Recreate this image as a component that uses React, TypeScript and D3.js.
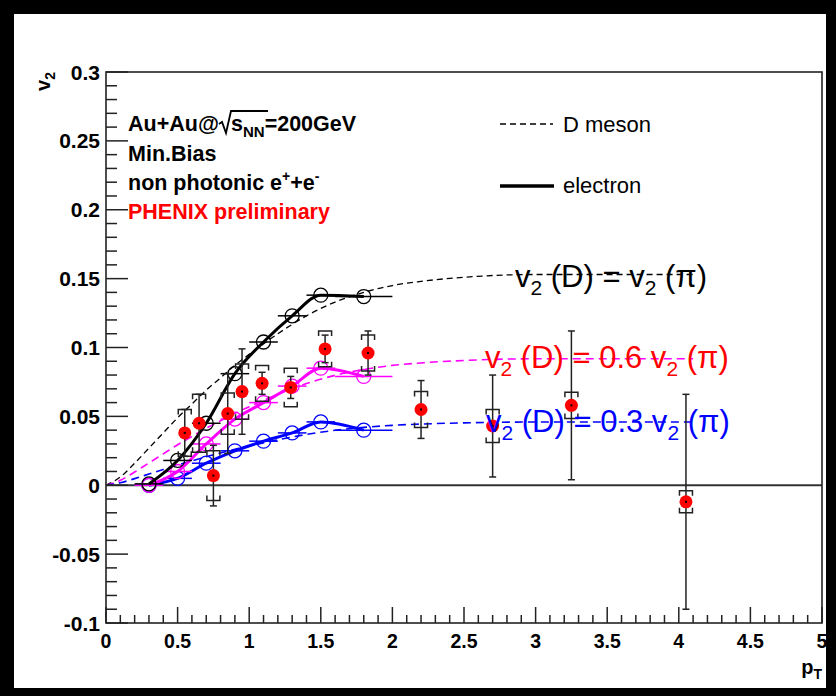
import React from "react";
import * as d3 from "d3";

// D-meson v2 assumption curves (dashed): v2(D) = v2(pi), 0.6 v2(pi), 0.3 v2(pi)
const dPt = [0, 0.1, 0.2, 0.3, 0.4, 0.5, 0.6, 0.7, 0.8, 0.9, 1.0, 1.2, 1.4, 1.6, 1.8, 2.0, 2.2, 2.5, 3.0, 3.5, 4.1];
const dV2Full = [0, 0.006, 0.016, 0.027, 0.038, 0.049, 0.059, 0.069, 0.078, 0.087, 0.095, 0.11, 0.123, 0.133, 0.14, 0.145, 0.148, 0.151, 0.153, 0.153, 0.153];
const dV2Sixty = [0, 0.0036, 0.0096, 0.0162, 0.0228, 0.0294, 0.0354, 0.0414, 0.0468, 0.0522, 0.057, 0.066, 0.0738, 0.0798, 0.084, 0.087, 0.0888, 0.0906, 0.0918, 0.0918, 0.0918];
const dV2Thirty = [0, 0.0018, 0.0048, 0.0081, 0.0114, 0.0147, 0.0177, 0.0207, 0.0234, 0.0261, 0.0285, 0.033, 0.0369, 0.0399, 0.042, 0.0435, 0.0444, 0.0453, 0.0459, 0.0459, 0.0459];

// Decay-electron v2 from each D assumption (solid lines, open circles)
const ePt = [0.3, 0.5, 0.7, 0.9, 1.1, 1.3, 1.5, 1.8];
const eHalfBin = [0.1, 0.1, 0.1, 0.1, 0.1, 0.1, 0.1, 0.2];
const eV2Full = [0.001, 0.018, 0.045, 0.081, 0.104, 0.123, 0.138, 0.137];
const eV2Sixty = [0.0, 0.01, 0.03, 0.048, 0.06, 0.072, 0.085, 0.079];
const eV2Thirty = [0.0, 0.005, 0.016, 0.025, 0.032, 0.038, 0.046, 0.04];

// Non-photonic electron v2 measurement
const dataPt = [0.55, 0.65, 0.75, 0.85, 0.95, 1.09, 1.29, 1.53, 1.83, 2.2, 2.7, 3.25, 4.05];
const dataV2 = [0.038, 0.045, 0.007, 0.052, 0.068, 0.074, 0.071, 0.099, 0.096, 0.055, 0.043, 0.058, -0.012];
const dataStat = [0.017, 0.021, 0.022, 0.029, 0.031, 0.008, 0.008, 0.01, 0.016, 0.021, 0.037, 0.054, 0.078];
const dataSys = [0.017, 0.021, 0.018, 0.015, 0.02, 0.013, 0.014, 0.013, 0.013, 0.013, 0.012, 0.0095, 0.008];

const xTickValues = [0, 0.5, 1, 1.5, 2, 2.5, 3, 3.5, 4, 4.5, 5];
const xTickLabels = ["0", "0.5", "1", "1.5", "2", "2.5", "3", "3.5", "4", "4.5", "5"];
const yTickValues = [-0.1, -0.05, 0, 0.05, 0.1, 0.15, 0.2, 0.25, 0.3];
const yTickLabels = ["-0.1", "-0.05", "0", "0.05", "0.1", "0.15", "0.2", "0.25", "0.3"];

const W = 836;
const H = 696;
const PL = 106;
const PR = 822;
const PT = 72;
const PB = 623;
const FONT = "'Liberation Sans', Arial, Helvetica, sans-serif";

const x = d3.scaleLinear().domain([0, 5]).range([PL, PR]);
const y = d3.scaleLinear().domain([-0.1, 0.3]).range([PB, PT]);

const lineGen = d3
  .line<[number, number]>()
  .x((d) => x(d[0]))
  .y((d) => y(d[1]))
  .curve(d3.curveMonotoneX);

const zipPts = (xs: number[], ys: number[]) => xs.map((v, i) => [v, ys[i]] as [number, number]);

const xMinor = d3.range(0, 5.0001, 0.1).filter((v) => Math.abs(v * 2 - Math.round(v * 2)) > 1e-6);
const yMinor = d3.range(-0.1, 0.30001, 0.01).filter((v) => Math.abs(v * 20 - Math.round(v * 20)) > 1e-6);

function ElectronCurve({ ys, color }: { ys: number[]; color: string }) {
  return (
    <g>
      <path d={lineGen(zipPts(ePt, ys)) || ""} fill="none" stroke={color} strokeWidth={3} />
      {ePt.map((p, i) => (
        <g key={i}>
          <line x1={x(p - eHalfBin[i])} x2={x(p + eHalfBin[i])} y1={y(ys[i])} y2={y(ys[i])} stroke={color} strokeWidth={1.5} />
          <circle cx={x(p)} cy={y(ys[i])} r={7} fill="none" stroke={color} strokeWidth={1.3} />
        </g>
      ))}
    </g>
  );
}

function Annotation({ x0, y0, color, factor }: { x0: number; y0: number; color: string; factor: string }) {
  return (
    <text x={x0} y={y0} fill={color} fontFamily={FONT} fontSize={31}>
      v
      <tspan dy={8} fontSize={21}>2</tspan>
      <tspan dy={-8}>{` (D) = ${factor}v`}</tspan>
      <tspan dy={8} fontSize={21}>2</tspan>
      <tspan dy={-8}>{" (\u03c0)"}</tspan>
    </text>
  );
}

export default function App() {
  return (
    <svg width={W} height={H} style={{ position: "absolute", left: 0, top: 0 }}>
      <rect x={0} y={0} width={W} height={H} fill="#000" />
      <rect x={14} y={14} width={812} height={674} fill="#fff" />

      {/* dashed D-meson curves */}
      <path d={lineGen(zipPts(dPt, dV2Full)) || ""} fill="none" stroke="#000" strokeWidth={1.3} strokeDasharray="6 4" />
      <path d={lineGen(zipPts(dPt, dV2Sixty)) || ""} fill="none" stroke="#ff00ff" strokeWidth={1.6} strokeDasharray="8 5" />
      <path d={lineGen(zipPts(dPt, dV2Thirty)) || ""} fill="none" stroke="#0000ff" strokeWidth={1.6} strokeDasharray="8 5" />

      {/* zero line */}
      <line x1={PL} x2={PR} y1={y(0)} y2={y(0)} stroke="#333" strokeWidth={2} />

      {/* electron curves */}
      <ElectronCurve ys={eV2Thirty} color="#0000ff" />
      <ElectronCurve ys={eV2Sixty} color="#ff00ff" />
      <ElectronCurve ys={eV2Full} color="#000" />

      {/* data: stat bars, sys brackets, markers */}
      {dataPt.map((p, i) => {
        const cx = x(p);
        const v = dataV2[i];
        const top = y(v + dataSys[i]);
        const bot = y(v - dataSys[i]);
        return (
          <g key={i}>
            <line x1={cx} x2={cx} y1={y(v + dataStat[i])} y2={y(v - dataStat[i])} stroke="#222" strokeWidth={1.5} />
            <line x1={cx - 3.5} x2={cx + 3.5} y1={y(v + dataStat[i])} y2={y(v + dataStat[i])} stroke="#222" strokeWidth={1.5} />
            <line x1={cx - 3.5} x2={cx + 3.5} y1={y(v - dataStat[i])} y2={y(v - dataStat[i])} stroke="#222" strokeWidth={1.5} />
            <path
              d={`M${cx - 6.5},${top + 5}V${top}H${cx + 6.5}V${top + 5}M${cx - 6.5},${bot - 5}V${bot}H${cx + 6.5}V${bot - 5}`}
              fill="none"
              stroke="#222"
              strokeWidth={1.5}
            />
          </g>
        );
      })}
      {dataPt.map((p, i) => (
        <g key={"m" + i}>
          <circle cx={x(p)} cy={y(dataV2[i])} r={6.5} fill="#ff0000" />
          <rect x={x(p) - 1} y={y(dataV2[i]) - 1} width={2} height={2} fill="#000" />
        </g>
      ))}

      {/* frame */}
      <rect x={PL} y={PT} width={PR - PL} height={PB - PT} fill="none" stroke="#222" strokeWidth={1.6} />

      {/* x axis ticks */}
      {xTickValues.map((v) => (
        <line key={"xt" + v} x1={x(v)} x2={x(v)} y1={PB} y2={PB - 16} stroke="#222" strokeWidth={1.5} />
      ))}
      {xMinor.map((v) => (
        <line key={"xm" + v} x1={x(v)} x2={x(v)} y1={PB} y2={PB - 8} stroke="#222" strokeWidth={1.5} />
      ))}
      {xTickValues.map((v, i) => (
        <text key={"xl" + v} x={x(v)} y={648} textAnchor="middle" fontFamily={FONT} fontWeight="bold" fontSize={19.5} fill="#000">
          {xTickLabels[i]}
        </text>
      ))}

      {/* y axis ticks */}
      {yTickValues.map((v) => (
        <line key={"yt" + v} x1={PL} x2={PL + 22} y1={y(v)} y2={y(v)} stroke="#222" strokeWidth={1.5} />
      ))}
      {yMinor.map((v) => (
        <line key={"ym" + v.toFixed(3)} x1={PL} x2={PL + 11} y1={y(v)} y2={y(v)} stroke="#222" strokeWidth={1.5} />
      ))}
      {yTickValues.map((v, i) => (
        <text key={"yl" + v} x={100} y={y(v) + 7.5} textAnchor="end" fontFamily={FONT} fontWeight="bold" fontSize={21} fill="#000">
          {yTickLabels[i]}
        </text>
      ))}

      {/* axis titles */}
      <text transform="translate(50,72) rotate(-90)" textAnchor="end" fontFamily={FONT} fontWeight="bold" fontSize={20} fill="#000">
        v<tspan dy={5} fontSize={14}>2</tspan>
      </text>
      <text x={822} y={674} textAnchor="end" fontFamily={FONT} fontWeight="bold" fontSize={20} fill="#000">
        p<tspan dy={5} fontSize={14}>T</tspan>
      </text>

      {/* info text */}
      <g fontFamily={FONT} fontWeight="bold" fontSize={21.5} fill="#000">
        <text x={128} y={131}>Au+Au@</text>
        <path d="M219,124 L222,122 L226,133 L231,111 L268,111" fill="none" stroke="#000" strokeWidth={1.8} />
        <text x={231} y={131}>
          s<tspan dy={6} fontSize={15}>NN</tspan>
          <tspan dy={-6}>=200GeV</tspan>
        </text>
        <text x={128} y={161}>Min.Bias</text>
        <text x={128} y={190}>
          non photonic e<tspan dy={-9} fontSize={14}>+</tspan>
          <tspan dy={9}>+e</tspan>
          <tspan dy={-9} fontSize={14}>-</tspan>
        </text>
        <text x={128} y={219} fill="#ff0000">PHENIX preliminary</text>
      </g>

      {/* legend */}
      <line x1={500} x2={553} y1={124} y2={124} stroke="#000" strokeWidth={1.5} strokeDasharray="6 4" />
      <text x={563} y={132} fontFamily={FONT} fontSize={22} fill="#000">D meson</text>
      <line x1={500} x2={554} y1={186} y2={186} stroke="#000" strokeWidth={3.5} />
      <text x={563} y={193} fontFamily={FONT} fontSize={22} fill="#000">electron</text>

      {/* curve annotations */}
      <Annotation x0={515} y0={287} color="#000" factor="" />
      <Annotation x0={485} y0={368} color="#ff0000" factor="0.6 " />
      <Annotation x0={486} y0={432} color="#0000ff" factor="0.3 " />
    </svg>
  );
}
